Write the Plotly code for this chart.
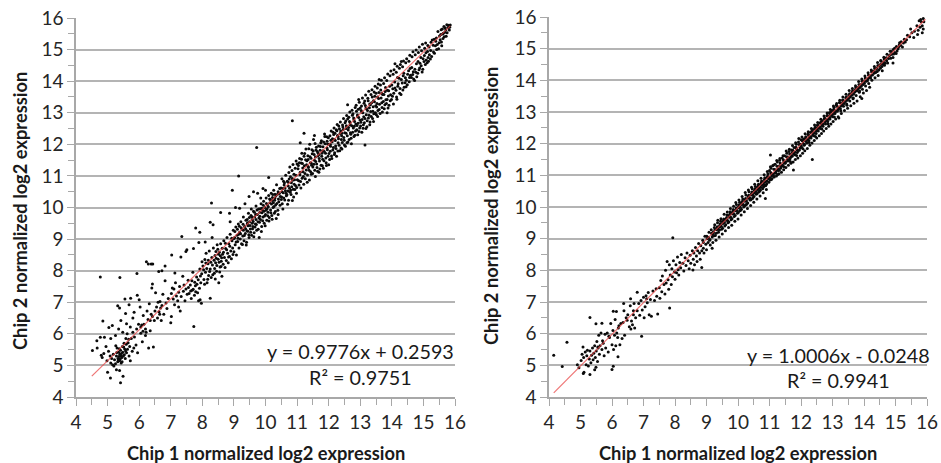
import plotly.graph_objects as go

left_low = [(4.77,7.80),(5.39,7.78),(5.93,7.91),(6.23,8.28),(6.29,8.21),(6.38,8.21),(6.43,8.21),(6.62,7.97),(6.82,8.15),(7.13,7.93),
(7.03,8.50),(7.35,9.08),(7.32,8.43),(7.48,8.61),(7.51,8.66),(7.72,8.70),(7.79,9.35),(7.92,9.22),(7.89,8.89),(7.73,6.23),
(5.41,4.45),(5.09,4.60),(5.49,4.66),(5.00,4.78),(5.28,4.86),(5.38,4.84),(4.52,5.47),(4.66,5.78),(4.77,5.89),(4.90,5.89),
(4.85,6.41),(5.04,6.20),(5.15,6.26),(5.32,6.89),(5.38,6.82),(5.55,7.10),(5.73,7.13),(5.94,7.22),(6.00,7.08),(5.68,6.92),
(5.84,6.68),(5.57,6.64),(4.67,5.55),(4.80,5.32),(4.83,5.25),(4.88,5.38),(4.95,5.60),(4.98,5.15),(5.03,5.45),(5.08,5.30),
(5.10,5.08),(5.13,5.22),(5.16,5.02),(5.18,5.35),(5.20,4.98),(5.22,5.18),(5.25,5.05),(5.26,5.62),(5.28,5.30),(5.30,5.55),
(5.32,5.12),(5.33,5.22),(5.35,5.42),(5.36,5.28),(5.38,5.15),(5.39,5.35),(5.40,5.20),(5.41,5.48),(5.42,5.30),(5.44,5.38),
(5.45,5.25),(5.46,5.12),(5.47,5.60),(5.48,5.42),(5.50,5.30),(5.52,5.70),(5.54,5.52),(5.56,5.22),(5.58,5.85),(5.60,5.40),
(5.62,6.00),(5.65,5.72),(5.68,5.30),(5.70,5.60),(5.72,5.15),(5.75,5.85),(5.78,5.45),(5.80,6.05),(5.83,5.55),(5.85,5.90),
(5.25,5.95),(5.35,6.15),(5.42,6.42),(5.48,6.05),(5.10,5.85),(5.60,6.32),(5.72,6.22),(5.80,6.50),(5.90,5.65),(5.92,6.15),
(5.95,5.40),(5.98,6.30),(6.03,6.85),(6.05,6.02),(6.08,6.28),(6.10,5.75),(6.13,6.58),(6.15,6.30),(6.20,5.95),(6.22,6.05),
(6.25,6.72),(6.28,6.45),(6.30,5.55),(6.32,6.95),(6.35,6.10),(6.38,6.62),(6.40,7.45),(6.42,7.58),(6.45,5.58),(6.48,6.42),
(6.50,6.72),(6.52,7.30),(6.55,6.85),(6.58,6.50),(6.60,7.00),(6.63,6.70),(6.66,7.02),(6.70,6.42),(6.72,6.90),(6.75,7.25),
(6.78,6.62),(6.82,7.68),(6.85,6.98),(6.88,6.80),(6.92,7.12),(7.00,6.35),(7.02,6.55),(7.05,7.45),(7.08,7.10),(7.12,6.92),
(7.15,7.62),(7.18,7.20),(7.22,7.05),(7.25,6.85),(7.28,7.50),(7.30,6.72),(7.33,7.18),(7.38,7.82),(7.40,7.35),(7.45,7.05),
(7.48,7.42),(7.52,7.25),(7.55,7.70),(7.58,7.28),(7.62,7.55),(7.65,7.12),(7.68,7.38),(7.70,7.95),(7.75,7.22),(7.78,7.52),
(7.82,7.80),(7.85,7.30),(7.88,7.05),(7.92,8.05),(7.95,7.62),(7.98,7.90),(7.97,6.97),(7.93,7.08),(6.72,8.00),(6.20,6.15),
(6.05,6.22),(6.12,6.08),(6.65,6.62),(6.68,6.82),(6.35,6.42),(6.42,6.55),(7.02,7.28),(7.10,7.42),(7.25,7.32),(7.42,7.55)]

left_mid = [(8.25,7.13),(8.09,8.91),(8.25,9.53),(8.34,9.45),(8.31,9.05),(8.29,10.14),(8.58,9.84),(8.86,9.82),(8.02,8.15),(8.05,7.72),
(8.08,8.35),(8.10,7.95),(8.12,8.55),(8.15,7.62),(8.18,8.22),(8.20,7.85),(8.22,8.62),(8.25,8.05),(8.28,7.78),(8.30,8.42),
(8.32,8.18),(8.35,8.72),(8.38,7.92),(8.40,8.48),(8.42,8.25),(8.45,7.98),(8.47,8.82),(8.50,8.36),(8.52,7.62),(8.54,8.58),
(8.56,8.12),(8.58,8.85),(8.60,8.30),(8.62,7.82),(8.64,8.52),(8.66,8.20),(8.68,8.95),(8.70,8.42),(8.72,8.10),(8.74,8.70),
(8.76,8.32),(8.78,9.05),(8.80,8.55),(8.82,8.25),(8.84,8.85),(8.86,8.45),(8.88,9.15),(8.90,8.62),(8.92,8.38),(8.94,8.95),
(8.96,8.72),(8.98,9.28),(9.00,8.60),(9.02,9.05),(9.04,8.82),(9.06,9.38),(9.08,8.50),(9.10,9.12),(9.12,8.92),(9.14,9.48),
(9.16,8.72),(9.18,9.22),(9.20,9.00),(9.22,9.55),(9.24,8.85),(9.26,9.30),(9.28,9.10),(9.30,9.70),(9.32,8.95),(9.34,9.40),
(9.36,9.18),(9.38,9.60),(9.40,8.90),(9.42,9.48),(9.44,9.25),(9.46,9.82),(9.48,9.05),(9.50,9.55),(9.52,9.32),(9.54,9.75),
(9.56,9.12),(9.58,9.62),(9.60,9.40),(9.62,9.88),(9.64,9.20),(9.66,9.70),(9.68,9.48),(9.70,10.05),(9.72,9.28),(9.74,9.78),
(9.76,9.55),(9.78,9.95),(9.80,9.05),(9.82,9.85),(9.84,9.62),(9.86,10.12),(9.88,9.40),(9.90,9.92),(9.92,9.70),(9.94,10.20),
(9.96,9.50),(9.98,10.00),(10.00,9.78),(10.02,10.30),(10.04,9.60),(10.06,10.08),(10.08,9.85),(10.10,10.38),(10.12,9.68),(10.14,10.15),
(10.16,9.92),(10.18,10.45),(10.20,9.75),(10.22,10.22),(10.24,10.00),(10.26,10.55),(10.28,9.82),(10.30,10.30),(10.32,10.08),(10.34,9.65),
(9.05,10.00),(9.18,9.98),(9.35,10.12),(9.48,10.35),(9.62,10.50),(8.95,10.55),(9.15,11.00),(8.88,9.55),(10.40,9.78),(10.45,10.60),
(10.50,10.25),(10.55,9.95),(10.60,10.78),(10.65,10.45),(10.70,10.10),(10.75,10.90),(10.80,10.55),(10.85,10.22),(10.90,11.05),(10.95,10.70),
(10.38,10.42),(10.42,10.18),(10.47,10.35),(10.52,10.50),(10.58,10.30),(10.62,10.62),(10.68,10.40),(10.72,10.68),(10.78,10.48),(10.82,10.78),
(10.88,10.58),(10.92,10.88),(10.98,10.45),(10.35,10.72),(10.10,10.95),(9.75,10.45),(9.92,10.60),(9.55,9.95),(9.85,10.30),(10.00,10.55),
(10.25,10.15),(10.05,9.95),(9.95,9.88),(9.82,9.72),(9.70,9.62),(9.58,9.50),(9.45,9.42),(9.30,9.28),(9.15,9.15),(9.00,9.02),
(10.22,10.32),(10.40,10.50),(10.55,10.60),(10.72,10.80),(10.85,10.92),(9.88,9.98),(10.15,10.25),(10.30,10.42),(9.65,9.85),(9.42,9.62)]

left_high = [(9.72,11.90),(10.85,12.75),(11.00,11.38),(11.05,10.85),(11.08,11.55),(11.10,11.12),(11.12,10.62),(11.15,11.72),(11.18,11.25),(11.20,10.98),
(11.22,11.62),(11.25,11.08),(11.28,11.85),(11.30,11.35),(11.32,10.80),(11.35,11.52),(11.38,11.18),(11.40,12.00),(11.42,11.42),(11.45,11.05),
(11.48,11.70),(11.50,11.28),(11.52,12.15),(11.55,11.50),(11.58,10.98),(11.60,11.82),(11.62,11.38),(11.65,11.15),(11.68,11.95),(11.70,11.55),
(11.72,11.22),(11.75,12.05),(11.78,11.62),(11.80,11.32),(11.82,11.92),(11.85,11.48),(11.88,12.25),(11.90,11.72),(11.92,11.42),(11.95,12.10),
(11.98,11.62),(12.00,11.35),(12.02,12.00),(12.05,11.78),(12.08,12.42),(12.10,11.55),(12.12,12.18),(12.15,11.90),(12.18,11.68),(12.20,12.35),
(12.22,11.95),(12.25,11.62),(12.28,12.28),(12.30,12.05),(12.32,12.58),(12.35,11.80),(12.38,12.42),(12.40,12.15),(12.42,11.85),(12.45,12.55),
(12.48,12.22),(12.50,11.98),(12.52,12.68),(12.55,12.35),(12.58,12.05),(12.60,12.80),(12.62,12.45),(12.65,12.15),(12.68,12.62),(12.70,12.32),
(12.72,12.02),(12.75,12.92),(12.78,12.52),(12.80,12.25),(12.82,12.72),(12.85,12.42),(12.88,13.05),(12.90,12.60),(12.92,12.30),(12.95,12.85),
(12.98,12.52),(13.00,13.15),(13.02,12.70),(13.05,12.38),(13.08,13.00),(13.10,12.62),(13.12,13.30),(13.15,12.82),(13.18,12.50),(13.20,13.12),
(13.22,12.75),(13.25,13.38),(13.28,12.92),(13.30,12.62),(13.32,13.25),(13.35,12.88),(13.38,13.50),(13.40,13.05),(13.42,12.72),(13.45,13.35),
(13.48,13.00),(13.50,13.62),(13.52,13.18),(13.55,12.88),(13.58,13.45),(13.60,13.10),(13.65,13.72),(13.68,13.32),(13.70,13.02),(13.75,13.58),
(13.78,13.25),(13.80,13.80),(13.85,13.42),(13.88,13.15),(13.90,13.70),(13.95,13.38),(14.00,13.88),(14.02,13.52),(14.05,13.28),(14.10,13.78),
(14.15,13.50),(14.18,14.12),(14.20,13.92),(14.25,13.62),(14.30,14.05),(14.35,13.72),(14.38,14.25),(14.42,13.95),(14.45,13.82),(14.50,14.22),
(14.55,13.98),(14.58,14.40),(14.62,14.12),(14.68,14.30),(14.72,14.02),(14.78,14.55),(14.82,14.25),(14.88,14.42),(14.92,14.75),(14.98,14.38),
(15.02,14.62),(15.08,14.90),(15.12,14.58),(15.15,14.75),(15.18,15.08),(15.22,14.70),(15.28,15.30),(15.32,14.92),(15.38,15.12),(15.42,15.00),
(15.50,15.22),(15.55,15.48),(15.58,15.12),(15.62,15.35),(15.68,15.55),(15.72,15.42),(15.78,15.70),(15.82,15.62),(15.85,15.78),(15.60,15.65),
(12.60,13.25),(12.95,13.42),(13.60,14.05),(14.10,14.55),(14.30,14.62),(13.15,11.98),(11.55,12.28),(11.10,12.05),(11.22,12.35),(13.85,13.00),
(11.35,11.30),(11.45,11.40),(11.58,11.60),(11.70,11.68),(11.82,11.80),(11.95,11.88),(12.05,12.00),(12.18,12.15),(12.30,12.25),(12.42,12.35),
(12.55,12.50),(12.68,12.68),(12.80,12.78),(12.92,12.88),(13.05,13.02),(13.18,13.15),(13.30,13.28),(13.42,13.38),(13.55,13.50),(13.68,13.62)]

left_core = [(8.43,8.61),(8.51,8.52),(8.57,8.47),(8.63,8.71),(8.67,8.58),(8.73,8.87),(8.77,8.66),(8.83,8.43),(8.87,8.77),(8.93,9.03),
(8.97,8.51),(9.03,9.24),(9.07,8.91),(9.11,9.31),(9.13,9.03),(9.17,9.41),(9.21,9.17),(9.23,9.36),(9.27,8.83),(9.29,9.47),
(9.33,9.11),(9.37,9.33),(9.39,8.81),(9.41,9.26),(9.43,9.52),(9.47,9.14),(9.49,9.68),(9.51,9.43),(9.53,9.22),(9.57,9.71),
(9.59,9.33),(9.61,9.56),(9.63,9.07),(9.67,9.38),(9.69,9.78),(9.71,9.46),(9.73,9.92),(9.77,9.31),(9.79,9.67),(9.81,9.53),
(9.83,9.96),(9.87,9.24),(9.89,9.83),(9.91,9.58),(9.93,10.07),(9.97,9.73),(9.99,9.42),(10.01,9.91),(10.03,10.13),(10.07,9.74),
(10.09,10.02),(10.11,9.57),(10.13,10.27),(10.17,9.83),(10.19,10.11),(10.21,9.63),(10.23,10.41),(10.27,10.03),(10.29,10.23),(10.31,9.87),
(10.33,10.37),(10.36,10.13),(10.39,9.91),(10.41,10.27),(10.44,10.44),(10.46,10.07),(10.49,10.62),(10.51,10.33),(10.53,10.12),(10.56,10.47),
(10.59,10.71),(10.61,10.24),(10.63,10.53),(10.66,10.37),(10.69,10.83),(10.71,10.52),(10.73,10.23),(10.76,10.61),(10.79,10.97),(10.81,10.41),
(10.83,10.66),(10.86,10.86),(10.89,10.33),(10.91,10.74),(10.93,10.57),(10.96,11.02),(10.99,10.63),(11.01,10.88),(11.03,11.23),(11.06,10.71),
(11.09,11.04),(11.11,10.82),(11.13,11.41),(11.16,10.93),(11.19,11.13),(11.21,10.74),(11.23,11.32),(11.26,10.91),(11.29,11.19),(11.31,11.48),
(11.33,11.03),(11.36,11.27),(11.39,10.87),(11.41,11.61),(11.43,11.13),(11.46,11.34),(11.49,11.08),(11.51,11.79),(11.53,11.37),(11.56,11.18),
(11.59,11.46),(11.61,11.91),(11.63,11.27),(11.66,11.63),(11.69,11.12),(11.71,11.47),(11.73,11.81),(11.76,11.34),(11.79,11.72),(11.81,11.53),
(11.83,11.24),(11.86,11.77),(11.89,12.02),(11.91,11.57),(11.93,11.33),(11.96,11.83),(11.99,12.21),(12.01,11.71),(12.03,11.52),(12.06,11.94),
(12.09,11.63),(12.11,12.08),(12.13,11.82),(12.16,12.31),(12.19,11.73),(12.21,12.12),(12.23,11.87),(12.26,12.43),(12.29,11.79),(12.31,12.18),
(12.33,11.97),(12.36,12.34),(12.39,11.88),(12.41,12.27),(12.43,12.06),(12.46,12.47),(12.49,12.13),(12.51,12.37),(12.53,11.94),(12.56,12.59),
(12.59,12.27),(12.61,12.07),(12.63,12.53),(12.66,12.72),(12.69,12.37),(12.71,12.19),(12.73,12.59),(12.76,12.38),(12.79,12.83),(12.81,12.57),
(12.83,12.29),(12.86,12.64),(12.89,12.46),(12.91,12.93),(12.93,12.67),(12.96,12.41),(12.99,12.77),(13.01,12.58),(13.03,13.07),(13.06,12.79),
(13.09,12.51),(13.11,12.87),(13.13,12.68),(13.16,13.23),(13.19,12.94),(13.21,12.56),(13.23,13.07),(13.26,12.83),(13.29,13.16),(13.31,12.71),
(13.33,13.04),(13.36,13.32),(13.39,12.82),(13.41,13.19),(13.43,12.97),(13.46,13.52),(13.49,13.22),(13.51,12.94),(13.53,13.29),(13.56,13.07),
(13.59,13.64),(13.61,13.27),(13.63,12.98),(13.66,13.47),(13.69,13.17),(13.71,13.58),(13.73,13.36),(13.76,13.13),(13.79,13.67),(13.81,13.41),
(13.83,13.29),(13.86,13.71),(13.89,13.53),(13.91,13.24),(13.93,13.84),(13.96,13.57),(13.99,13.42),(14.03,13.76),(14.06,13.62),(14.09,13.97),
(14.13,13.71),(14.16,13.43),(14.19,13.84),(14.23,14.09),(14.26,13.77),(14.29,13.58),(14.33,13.94),(14.36,14.17),(14.39,13.81),(14.43,14.11),
(14.46,14.03),(14.49,13.89),(14.53,14.33),(14.56,14.12),(14.59,14.19),(14.63,14.43),(14.66,14.21),(14.69,14.07),(14.73,14.38),(14.76,14.28),
(14.79,14.14),(14.83,14.62),(14.86,14.36),(14.89,14.57),(14.93,14.49),(14.96,14.29),(14.99,14.71),(15.03,14.81),(15.06,14.53),(15.09,14.67),
(15.13,14.94),(15.16,14.63),(15.19,14.84),(15.23,14.97),(15.26,14.78),(15.31,15.14),(15.35,14.88),(15.39,15.26),(15.44,15.16),(15.48,15.03),
(15.53,15.31),(15.57,15.24),(15.63,15.52),(15.66,15.41),(15.71,15.62),(15.75,15.53),(15.79,15.77),(15.83,15.71),(15.65,15.73),(15.74,15.79)]

left_low_extra = [(5.29,5.41),(5.34,5.17),(5.37,5.53),(5.43,5.08),(5.51,5.58),(5.53,5.34),(5.57,5.46),(5.59,5.67),(5.63,5.51),(5.67,5.83),
(7.56,7.47),(7.63,7.36),(7.67,7.68),(7.71,7.41),(7.76,7.63),(7.79,7.33),(7.83,7.57),(7.87,7.71),(7.91,7.44),(7.94,7.83),
(7.99,8.28),(8.04,8.03),(8.07,7.57),(8.11,8.24),(8.14,8.07),(8.17,7.73),(8.19,8.33),(8.23,7.97),(8.27,8.27),(8.33,7.87),
(8.37,8.33),(8.39,8.07),(8.41,7.74),(8.44,8.39),(8.46,8.16),(8.49,8.68),(8.53,8.27),(8.55,7.96),(8.59,8.13),(8.61,8.41)]

left_upper = [(10.52,10.91),(10.57,10.83),(10.64,11.02),(10.74,11.11),(10.77,11.28),(10.84,11.17),(10.87,11.36),(10.94,11.24),(10.97,11.47),(11.04,11.33),
(11.07,11.42),(11.14,11.53),(11.17,11.39),(11.24,11.71),(11.27,11.51),(11.34,11.64),(11.37,11.86),(11.44,11.56),(11.47,11.83),(11.54,11.68),
(11.57,12.03),(11.64,11.77),(11.67,11.72),(11.74,11.93),(11.77,12.11),(11.84,12.07),(11.87,12.33),(11.94,12.24),(11.97,12.01),(12.04,12.27),
(12.07,12.13),(12.14,12.38),(12.17,12.52),(12.24,12.46),(12.27,12.63),(12.34,12.49),(12.37,12.71),(12.44,12.61),(12.47,12.82),(12.54,12.74),
(12.57,12.91),(12.64,12.86),(12.67,13.02),(12.74,13.08),(12.77,12.97),(12.84,13.17),(12.87,13.24),(12.94,13.11),(12.97,13.33),(13.04,13.21),
(13.07,13.47),(13.14,13.37),(13.17,13.56),(13.24,13.46),(13.27,13.68),(13.34,13.58),(13.37,13.73),(13.44,13.66),(13.47,13.84),(13.54,13.78),
(13.57,13.91),(13.64,13.88),(13.67,14.03),(13.74,13.93),(13.77,14.11),(13.84,14.02),(13.87,14.23),(13.94,14.17),(13.97,14.32),(14.04,14.22),
(14.07,14.36),(14.14,14.28),(14.17,14.47),(14.24,14.41),(14.27,14.53),(14.34,14.46),(14.37,14.64),(14.44,14.58),(14.47,14.71),(14.54,14.63),
(14.57,14.82),(14.64,14.77),(14.67,14.93),(14.74,14.84),(14.77,14.99),(14.84,14.91),(14.87,15.08),(14.94,14.96),(14.97,15.17),(15.04,15.04),
(15.07,15.21),(15.14,15.13),(15.24,15.23),(15.34,15.33),(15.41,15.37),(15.46,15.57),(15.51,15.43),(15.56,15.63),(15.61,15.49),(15.69,15.68)]

right_low = [(4.15,5.32),(4.42,4.96),(4.57,5.73),(7.93,9.03),(7.83,6.81),(6.94,5.92),(6.00,4.87),(6.04,4.97),(6.19,5.27),(5.30,6.51),
(5.49,6.31),(5.68,6.33),(5.30,4.71),(5.11,4.78),(5.09,4.74),(5.45,4.86),(5.49,4.94),(6.04,6.71),(6.14,6.70),(6.37,6.95),
(6.59,7.10),(6.80,7.31),(4.90,5.02),(4.95,4.92),(5.02,5.15),(5.05,5.35),(5.08,5.58),(5.10,5.25),(5.15,5.42),(5.18,5.02),
(5.20,5.30),(5.22,5.48),(5.25,4.98),(5.28,5.20),(5.30,5.45),(5.33,5.08),(5.35,5.32),(5.38,5.55),(5.40,5.18),(5.42,5.38),
(5.45,5.62),(5.47,5.25),(5.50,5.45),(5.52,5.75),(5.54,5.12),(5.56,5.55),(5.58,5.95),(5.60,5.35),(5.62,5.62),(5.65,6.02),
(5.68,5.50),(5.70,5.78),(5.75,5.30),(5.78,5.98),(5.80,5.55),(5.85,6.02),(5.88,5.42),(5.92,5.88),(5.96,6.32),(6.00,5.65),
(6.03,6.10),(6.05,5.50),(6.08,5.95),(6.10,6.45),(6.12,5.62),(6.15,6.02),(6.18,5.88),(6.22,6.25),(6.25,5.65),(6.28,6.32),
(6.32,5.85),(6.35,6.35),(6.38,6.72),(6.40,5.95),(6.45,6.50),(6.50,6.60),(6.55,6.22),(6.58,6.88),(6.60,6.15),(6.62,6.40),
(6.65,6.28),(6.68,6.60),(6.70,6.95),(6.72,6.18),(6.75,6.50),(6.80,6.72),(6.85,6.95),(6.88,6.58),(6.92,7.05),(6.96,6.75),
(7.00,7.15),(7.02,6.50),(7.05,6.85),(7.08,7.20),(7.12,6.98),(7.15,7.30),(7.18,6.60),(7.22,7.08),(7.25,6.55),(7.30,7.35),
(7.35,7.05),(7.40,7.42),(7.42,7.18),(7.45,6.62),(7.50,7.45),(7.52,7.12),(7.55,7.68),(7.58,7.32),(7.60,7.82),(7.65,7.55),
(7.68,7.25),(7.70,8.00),(7.72,7.60),(7.75,8.28),(7.78,7.70),(7.80,7.40),(7.82,8.18),(7.85,7.85),(7.88,7.55),(7.90,8.05),
(7.92,7.80),(7.95,8.30),(7.98,7.95),(6.20,6.18),(5.55,5.58),(5.72,5.70),(5.90,5.92),(6.48,6.42),(6.68,6.72),(7.10,7.10)]

right_mid = [(8.57,8.01),(8.85,8.09),(9.18,8.70),(8.00,7.72),(8.03,8.18),(8.05,7.92),(8.08,8.42),(8.10,8.02),(8.12,7.85),(8.15,8.25),
(8.18,8.08),(8.20,8.50),(8.25,8.22),(8.28,7.98),(8.32,8.40),(8.35,8.15),(8.38,8.55),(8.42,8.30),(8.45,8.05),(8.48,8.48),
(8.50,8.22),(8.55,8.62),(8.58,8.35),(8.62,8.18),(8.65,8.72),(8.68,8.45),(8.70,8.28),(8.72,8.62),(8.75,8.85),(8.78,8.55),
(8.80,8.35),(8.82,8.78),(8.85,8.62),(8.88,8.95),(8.90,8.70),(8.92,8.55),(8.95,9.08),(8.98,8.82),(9.00,8.65),(9.02,9.00),
(9.05,8.88),(9.08,9.20),(9.10,8.95),(9.12,8.80),(9.15,9.28),(9.18,9.05),(9.20,8.88),(9.22,9.18),(9.25,9.35),(9.28,9.10),
(9.30,8.95),(9.32,9.28),(9.35,9.50),(9.38,9.20),(9.40,9.05),(9.42,9.38),(9.45,9.55),(9.48,9.30),(9.50,9.15),(9.52,9.48),
(9.55,9.62),(9.58,9.40),(9.60,9.25),(9.62,9.58),(9.65,9.75),(9.68,9.50),(9.70,9.35),(9.72,9.68),(9.75,9.85),(9.78,9.60),
(9.80,9.42),(9.82,9.78),(9.85,9.92),(9.88,9.70),(9.90,9.55),(9.92,9.88),(9.95,10.08),(9.98,9.80),(10.00,9.62),(10.02,9.98),
(10.05,10.15),(10.08,9.90),(10.10,9.75),(10.12,10.08),(10.15,10.25),(10.18,10.00),(10.20,9.85),(10.22,10.18),(10.25,10.38),(10.28,10.10),
(10.30,9.95),(10.32,10.28),(10.35,10.48),(10.38,10.22),(10.40,10.05),(10.42,10.38),(10.45,10.58),(10.48,10.30),(10.50,10.15),(10.52,10.45),
(10.55,10.65),(10.58,10.40),(10.60,10.25),(10.62,10.55),(10.65,10.72),(10.68,10.50),(10.70,10.35),(10.72,10.62),(10.75,10.82),(10.78,10.58),
(10.80,10.45),(10.82,10.72),(10.87,10.27),(10.85,10.92),(10.88,10.68),(10.90,10.55),(10.92,10.82),(10.95,11.05),(10.98,10.78),(11.03,11.64),
(9.22,9.22),(9.32,9.30),(9.42,9.42),(9.52,9.52),(9.62,9.62),(9.72,9.72),(9.82,9.82),(9.92,9.90),(10.02,10.02),(10.12,10.12),
(10.22,10.22),(10.32,10.32),(10.42,10.40),(10.52,10.52),(10.62,10.62),(10.72,10.72),(10.82,10.80),(10.92,10.92),(8.60,8.55),(8.90,8.88)]

right_high = [(12.36,11.50),(13.20,12.81),(13.93,13.43),(11.76,11.17),(11.00,11.15),(11.02,10.85),(11.05,11.22),(11.08,10.90),(11.10,11.30),(11.12,11.00),
(11.15,10.95),(11.18,11.35),(11.20,11.08),(11.22,10.98),(11.25,11.42),(11.28,11.15),(11.30,11.05),(11.32,11.48),(11.35,11.22),(11.38,11.10),
(11.40,11.55),(11.42,11.30),(11.45,11.18),(11.48,11.62),(11.50,11.38),(11.52,11.25),(11.55,11.70),(11.58,11.45),(11.60,11.32),(11.62,11.75),
(11.65,11.52),(11.68,11.38),(11.70,11.80),(11.72,11.60),(11.75,11.42),(11.78,11.88),(11.80,11.65),(11.82,11.50),(11.85,11.98),(11.88,11.72),
(11.90,11.55),(11.92,12.05),(11.95,11.80),(11.98,11.62),(12.00,12.12),(12.02,11.88),(12.05,11.70),(12.08,12.15),(12.10,11.95),(12.12,11.78),
(12.15,12.22),(12.18,12.02),(12.20,11.85),(12.22,12.30),(12.25,12.10),(12.28,11.95),(12.30,12.35),(12.32,12.18),(12.35,12.02),(12.38,12.45),
(12.40,12.25),(12.42,12.10),(12.45,12.52),(12.48,12.32),(12.50,12.18),(12.52,12.58),(12.55,12.40),(12.58,12.25),(12.60,12.65),(12.62,12.48),
(12.65,12.32),(12.68,12.72),(12.70,12.55),(12.72,12.40),(12.75,12.80),(12.78,12.62),(12.80,12.48),(12.82,12.88),(12.85,12.70),(12.88,12.55),
(12.90,12.98),(12.92,12.78),(12.95,12.62),(12.98,13.05),(13.00,12.85),(13.02,12.70),(13.05,13.15),(13.08,12.95),(13.10,12.78),(13.12,13.22),
(13.15,13.02),(13.18,12.85),(13.22,13.30),(13.25,13.10),(13.28,12.95),(13.32,13.38),(13.35,13.18),(13.38,13.05),(13.42,13.45),(13.45,13.25),
(13.48,13.12),(13.52,13.52),(13.55,13.35),(13.58,13.20),(13.62,13.62),(13.65,13.42),(13.68,13.28),(13.72,13.70),(13.75,13.52),(13.78,13.35),
(13.82,13.78),(13.85,13.62),(13.88,13.48),(13.92,13.88),(13.95,13.72),(13.98,13.60),(14.02,13.98),(14.05,13.82),(14.08,13.68),(14.12,14.05),
(14.15,13.90),(14.18,13.78),(14.22,14.15),(14.25,14.00),(14.28,14.28),(14.32,14.22),(14.35,14.08),(14.38,14.35),(14.42,14.28),(14.45,14.15),
(14.48,14.45),(14.52,14.38),(14.55,14.52),(14.58,14.30),(14.62,14.58),(14.65,14.48),(14.68,14.65),(14.72,14.62),(14.75,14.55),(14.80,14.78),
(14.85,14.70),(14.88,14.82),(14.92,14.72),(14.98,14.88),(15.02,14.85),(15.08,15.00),(15.12,15.12),(15.18,15.22),(15.22,15.05),(15.28,15.30),
(15.35,15.28),(15.38,15.42),(15.45,15.38),(15.48,15.62),(15.52,15.50),(15.58,15.35),(15.60,15.55),(15.68,15.72),(15.72,15.58),(15.75,15.88),
(15.78,15.68),(15.82,15.85),(15.85,15.72),(15.88,15.95),(15.80,15.92),(15.90,15.85),(15.85,15.50),(15.88,15.62),(15.70,15.45),(14.92,14.55),
(11.05,11.05),(11.18,11.18),(11.32,11.30),(11.45,11.42),(11.58,11.58),(11.72,11.72),(11.85,11.85),(11.98,11.98),(12.12,12.10),(12.25,12.22),
(12.38,12.35),(12.52,12.50),(12.65,12.62),(12.78,12.78),(12.92,12.90),(13.05,13.02),(13.18,13.15),(13.32,13.30),(13.45,13.42),(13.58,13.55)]

right_core = [(9.01,9.08),(9.06,9.04),(9.11,8.97),(9.16,9.17),(9.19,9.13),(9.24,9.09),(9.27,9.29),(9.31,9.17),(9.34,9.38),(9.37,9.31),
(9.41,9.27),(9.44,9.47),(9.47,9.39),(9.51,9.33),(9.54,9.58),(9.57,9.51),(9.61,9.44),(9.64,9.67),(9.67,9.57),(9.71,9.53),
(9.74,9.77),(9.77,9.68),(9.81,9.63),(9.84,9.87),(9.87,9.79),(9.91,9.73),(9.94,9.97),(9.97,9.89),(10.01,9.83),(10.04,10.07),
(10.07,9.99),(10.11,9.93),(10.14,10.18),(10.17,10.08),(10.21,10.03),(10.24,10.27),(10.27,10.19),(10.31,10.13),(10.34,10.37),(10.37,10.29),
(10.41,10.23),(10.44,10.47),(10.47,10.39),(10.51,10.33),(10.54,10.57),(10.57,10.49),(10.61,10.43),(10.64,10.67),(10.67,10.59),(10.71,10.53),
(10.74,10.77),(10.77,10.69),(10.81,10.63),(10.84,10.87),(10.87,10.79),(10.91,10.73),(10.94,10.97),(10.97,10.89),(11.01,10.93),(11.04,11.09),
(11.07,10.99),(11.11,11.04),(11.14,11.19),(11.17,11.07),(11.21,11.14),(11.24,11.29),(11.27,11.21),(11.31,11.16),(11.34,11.39),(11.37,11.27),
(11.41,11.33),(11.44,11.49),(11.47,11.39),(11.51,11.43),(11.54,11.59),(11.57,11.51),(11.61,11.47),(11.64,11.67),(11.67,11.57),(11.71,11.63),
(11.74,11.79),(11.77,11.68),(11.81,11.73),(11.84,11.89),(11.87,11.81),(11.91,11.77),(11.94,11.97),(11.97,11.87),(12.01,11.93),(12.04,12.09),
(12.07,12.01),(12.11,11.97),(12.14,12.17),(12.17,12.07),(12.21,12.13),(12.24,12.27),(12.27,12.19),(12.31,12.23),(12.34,12.39),(12.37,12.27),
(12.41,12.33),(12.44,12.47),(12.47,12.39),(12.51,12.43),(12.54,12.59),(12.57,12.49),(12.61,12.53),(12.64,12.69),(12.67,12.57),(12.71,12.63),
(12.74,12.79),(12.77,12.69),(12.81,12.73),(12.84,12.89),(12.87,12.77),(12.91,12.83),(12.94,12.99),(12.97,12.89),(13.01,12.93),(13.04,13.09),
(13.07,12.99),(13.11,13.03),(13.14,13.19),(13.17,13.07),(13.21,13.13),(13.24,13.29),(13.27,13.19),(13.31,13.23),(13.34,13.37),(13.37,13.27),
(13.41,13.33),(13.44,13.47),(13.47,13.37),(13.51,13.43),(13.54,13.58),(13.57,13.47),(13.61,13.53),(13.64,13.67),(13.67,13.57),(13.71,13.63),
(13.74,13.77),(13.77,13.67),(13.81,13.73),(13.84,13.87),(13.87,13.77),(13.91,13.81),(13.94,13.97),(13.97,13.87),(14.01,13.91),(14.04,14.07),
(14.07,13.97),(14.11,13.99),(14.14,14.17),(14.17,14.09),(14.21,14.07),(14.24,14.27),(14.27,14.17),(14.31,14.29),(14.34,14.37),(14.37,14.25),
(14.41,14.39),(14.44,14.47),(14.47,14.33),(14.51,14.49),(14.54,14.61),(14.57,14.44),(14.61,14.51),(14.64,14.67),(14.67,14.54),(14.71,14.71),
(14.78,14.69),(14.83,14.81),(14.87,14.91),(14.94,14.83),(14.97,15.01),(15.05,14.93),(15.11,15.07),(15.16,15.11),(15.25,15.18),(15.31,15.21)]

right_upper = [(9.26,9.44),(9.36,9.58),(9.46,9.63),(9.56,9.77),(9.66,9.84),(9.76,9.95),(9.86,10.02),(9.93,10.14),(10.03,10.22),(10.13,10.33),
(10.23,10.46),(10.33,10.54),(10.43,10.62),(10.53,10.72),(10.63,10.83),(10.73,10.91),(10.83,11.02),(10.93,11.12),(11.03,11.27),(11.13,11.33),
(11.23,11.47),(11.33,11.53),(11.43,11.62),(11.53,11.77),(11.63,11.82),(11.73,11.94),(11.83,12.03),(11.93,12.16),(12.03,12.21),(12.13,12.31),
(12.23,12.38),(12.33,12.48),(12.43,12.59),(12.53,12.67),(12.63,12.77),(12.73,12.87),(12.83,12.97),(12.93,13.08),(13.03,13.19),(13.13,13.27),
(13.23,13.37),(13.33,13.47),(13.43,13.56),(13.53,13.68),(13.63,13.74),(13.73,13.83),(13.83,13.96),(13.93,14.04),(14.03,14.14),(14.13,14.24),
(14.23,14.33),(14.33,14.44),(14.43,14.56),(14.53,14.63),(14.63,14.73),(14.73,14.82),(14.83,14.92),(14.93,14.97),(15.03,15.07),(15.13,15.19),
(10.06,9.88),(10.26,10.07),(10.46,10.27),(10.66,10.47),(10.86,10.67),(11.06,10.87),(11.26,11.03),(11.46,11.27),(11.66,11.44),(11.86,11.63),
(12.06,11.84),(12.26,12.04),(12.46,12.23),(12.66,12.46),(12.86,12.63),(13.06,12.84),(13.26,13.04),(13.46,13.21),(13.66,13.44),(13.86,13.66)]

left_trend_x = [4.5, 15.85]
left_trend_y = [4.66, 15.75]
right_trend_x = [4.15, 15.95]
right_trend_y = [4.13, 15.93]

tick_vals = [4,5,6,7,8,9,10,11,12,13,14,15,16]
x_title = "Chip 1 normalized log2 expression"
y_title = "Chip 2 normalized log2 expression"
eq_left = ["y = 0.9776x + 0.2593", "R² = 0.9751"]
eq_right = ["y = 1.0006x - 0.0248", "R² = 0.9941"]

W, H = 941, 463
FONT = "Lato"
fig = go.Figure()

def add_panel(points, tx, ty, sub):
    xs, ys = zip(*points)
    fig.add_trace(go.Scatter(x=xs, y=ys, mode="markers", xaxis=f"x{sub}", yaxis=f"y{sub}",
                             marker=dict(color="#0a0a0a", size=3, line=dict(width=0)), showlegend=False))
    fig.add_trace(go.Scatter(x=tx, y=ty, mode="lines", xaxis=f"x{sub}", yaxis=f"y{sub}",
                             line=dict(color="rgba(232,70,70,0.75)", width=1.2), showlegend=False))

add_panel(left_low + left_low_extra + left_mid + left_high + left_core + left_upper, left_trend_x, left_trend_y, "")
add_panel(right_low + right_mid + right_high + right_core + right_upper, right_trend_x, right_trend_y, "2")

def axis(domain, is_x, anchor):
    d = dict(domain=domain, range=[4, 16], tickvals=tick_vals, anchor=anchor, automargin=False,
             showline=True, linecolor="#a8a8a8", linewidth=1.5, ticks="outside", ticklen=7, tickwidth=1.2,
             tickcolor="#a8a8a8", tickfont=dict(family=FONT, size=19, color="#262626"),
             minor=dict(dtick=0.5, ticks="outside", ticklen=6, tickcolor="#a8a8a8", tickwidth=1.2, showgrid=False),
             zeroline=False)
    if is_x:
        d.update(showgrid=False)
    else:
        d.update(showgrid=True, gridcolor="#b4b4b4", gridwidth=1.5)
    return d

fig.update_layout(
    width=W, height=H, margin=dict(l=0, r=0, t=0, b=0), paper_bgcolor="white", plot_bgcolor="white",
    xaxis=axis([76/W, 455/W], True, "y"),
    yaxis=axis([1-397/H, 1-18/H], False, "x"),
    xaxis2=axis([549/W, 927/W], True, "y2"),
    yaxis2=axis([1-397/H, 1-17/H], False, "x2"),
)

def note(px, py, text, size, bold=False, angle=0):
    fig.add_annotation(xref="paper", yref="paper", x=px/W, y=1-py/H, text=text, showarrow=False, textangle=angle,
                       font=dict(family=FONT, size=size, color="#1a1a1a", weight="bold" if bold else "normal"),
                       xanchor="center", yanchor="middle")

note(360, 351, eq_left[0], 19.8)
note(360, 377, eq_left[1], 19.8)
note(838, 355, eq_right[0], 19.8)
note(838, 380, eq_right[1], 19.8)
note(266, 453, x_title, 18.3, bold=True)
note(738, 453, x_title, 18.3, bold=True)
note(20, 211, y_title, 18.3, bold=True, angle=-90)
note(491, 206, y_title, 18.3, bold=True, angle=-90)

fig.write_html("out.html", config=dict(displayModeBar=False), post_script="document.body.style.margin='0';")
